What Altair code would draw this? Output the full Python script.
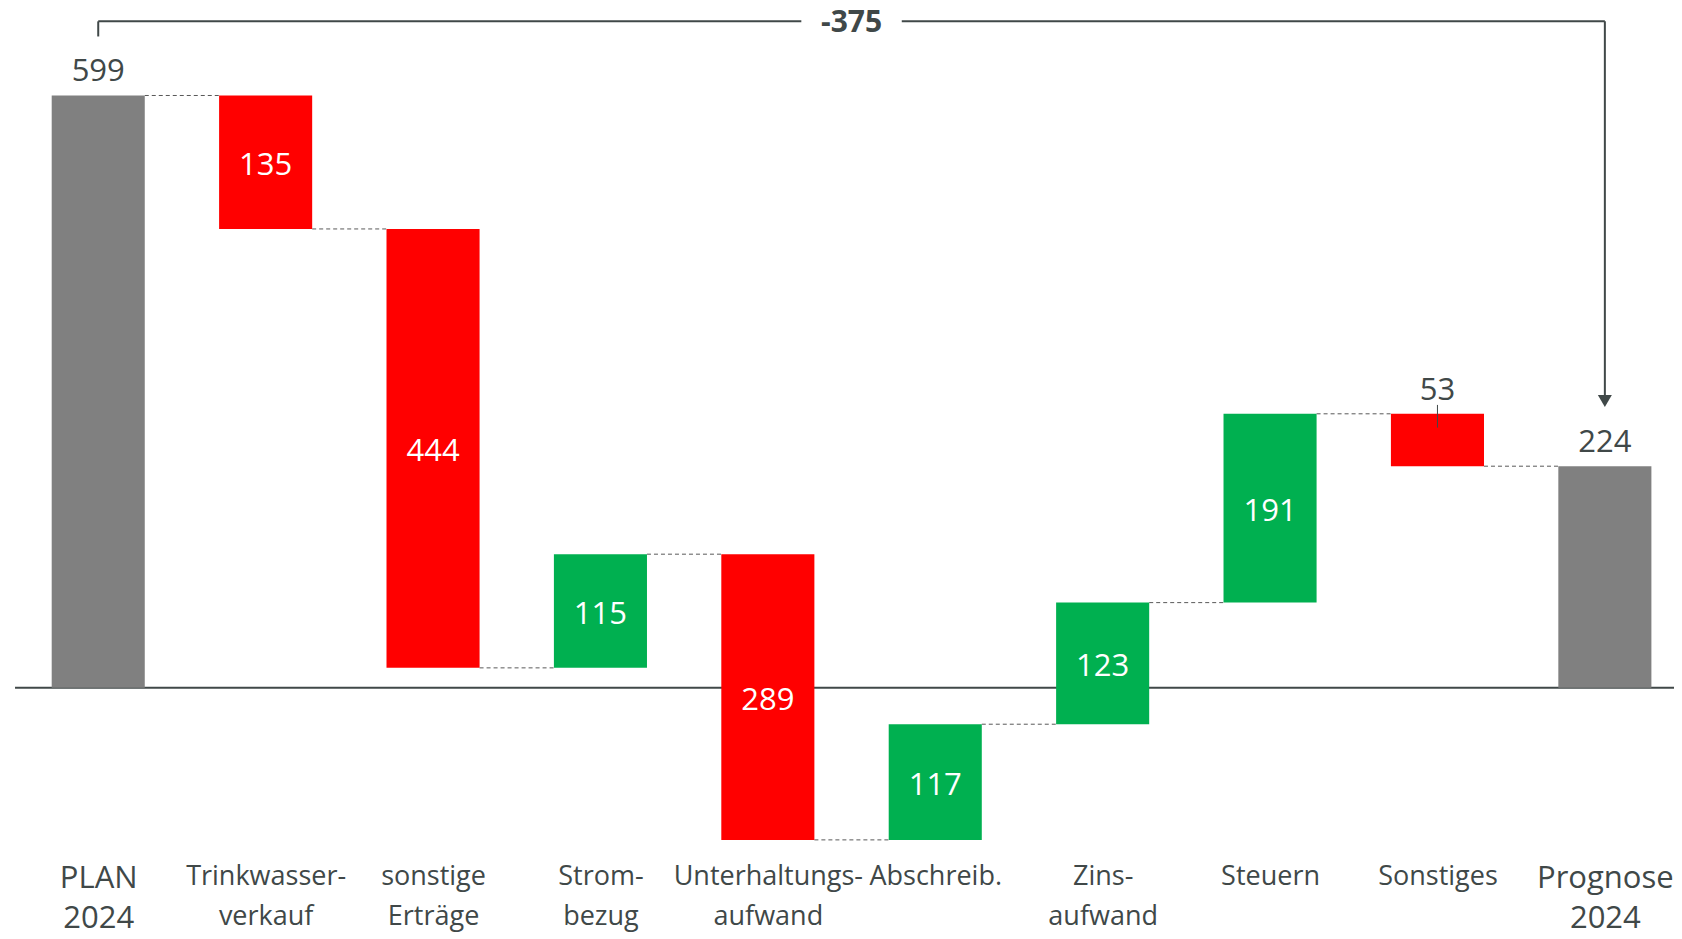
import json
import altair as alt
import pandas as pd

# ---------------- data ----------------
categories = ["PLAN 2024", "Trinkwasserverkauf", "sonstige Erträge", "Strombezug",
              "Unterhaltungsaufwand", "Abschreib.", "Zinsaufwand", "Steuern",
              "Sonstiges", "Prognose 2024"]
label_lines = [["PLAN", "2024"], ["Trinkwasser-", "verkauf"], ["sonstige", "Erträge"],
               ["Strom-", "bezug"], ["Unterhaltungs-", "aufwand"], ["Abschreib."],
               ["Zins-", "aufwand"], ["Steuern"], ["Sonstiges"], ["Prognose", "2024"]]
values = [599, -135, -444, 115, -289, 117, 123, 191, -53, 224]
kinds = ["total", "delta", "delta", "delta", "delta", "delta", "delta", "delta", "delta", "total"]

# ---------------- styling ----------------
GRAY = "#808080"
RED = "#FF0000"
GREEN = "#00B050"
DARK = "#404848"
FONT = "Open Sans"
HALF = 0.278  # half bar width in category units

rows = []
run = 0
for i, (c, v, k) in enumerate(zip(categories, values, kinds)):
    if k == "total":
        start, end = 0, v
        run = v
        t = "total"
    else:
        start, end = run, run + v
        run = end
        t = "neg" if v < 0 else "pos"
    rows.append(dict(idx=i, cat=c, value=v, start=start, end=end,
                     top=max(start, end), mid=(start + end) / 2,
                     label=str(abs(v)), kind=t, x0=i - HALF, x1=i + HALF))
df = pd.DataFrame(rows)

inside = df[(df.kind != "total") & (df.value.abs() >= 100)]
outside = df[(df.kind == "total") | (df.value.abs() < 100)]
small = df[(df.kind != "total") & (df.value.abs() < 100)].copy()
small["l0"] = small["top"] + 9
small["l1"] = small["top"] - 14

conn = pd.DataFrame([dict(xa=i + HALF, xb=i + 1 - HALF, lvl=df.end[i]) for i in range(len(df) - 1)])

diff = values[-1] - values[0]
n = len(values)
mid_x = (n - 1) / 2
by = values[0] + 75
bracket = pd.DataFrame([
    dict(x=0, x2=0, y=by - 15.3, y2=by),
    dict(x=0, x2=mid_x - 0.3, y=by, y2=by),
    dict(x=mid_x + 0.3, x2=n - 1, y=by, y2=by),
    dict(x=n - 1, x2=n - 1, y=by, y2=values[-1] + 66),
])
arrow = pd.DataFrame([dict(x=n - 1, y=values[-1] + 66)])
difftxt = pd.DataFrame([dict(x=mid_x, y=by - 2, t=f"{diff}")])

XS = alt.Scale(domain=[-0.539, 9.413], nice=False, zero=False)
YS = alt.Scale(domain=[-169.3, 687.5], nice=False, zero=False)

label_expr = json.dumps(label_lines, ensure_ascii=False) + "[datum.value]"

x_axis = alt.Axis(values=list(range(n)), labelExpr=label_expr, grid=False, ticks=False,
                  domain=False, labelFont=FONT, labelColor=DARK,
                  labelFontSize={"condition": {"test": "datum.value == 0 || datum.value == 9", "value": 31}, "value": 27},
                  labelPadding=8, labelLineHeight=40, labelOverlap=False, labelFlush=False,
                  labelBound=False, labelLimit=500, title=None)


def X(f):
    return alt.X(f, scale=XS, axis=x_axis)


def Y(f):
    return alt.Y(f, scale=YS, axis=None)


zero = alt.Chart(pd.DataFrame({"z": [0], "xa": [-0.497], "xb": [9.413]})).mark_rule(
    color=DARK, strokeWidth=2).encode(x=X("xa:Q"), x2="xb:Q", y=Y("z:Q"))

connectors = alt.Chart(conn).mark_rule(color="#595959", strokeWidth=1, strokeDash=[4, 3]).encode(
    x=X("xa:Q"), x2="xb:Q", y=Y("lvl:Q"))

bars = alt.Chart(df).mark_bar().encode(
    x=X("x0:Q"), x2="x1:Q", y=Y("start:Q"), y2="end:Q",
    color=alt.Color("kind:N", scale=alt.Scale(domain=["total", "neg", "pos"],
                                               range=[GRAY, RED, GREEN]), legend=None))

in_text = alt.Chart(inside).mark_text(font=FONT, fontSize=31, color="white",
                                      baseline="middle", align="center", dy=4).encode(
    x=X("idx:Q"), y=Y("mid:Q"), text="label:N")

out_text = alt.Chart(outside).mark_text(font=FONT, fontSize=31, color=DARK,
                                        baseline="middle", align="center", dy=-23).encode(
    x=X("idx:Q"), y=Y("top:Q"), text="label:N")

leader = alt.Chart(small).mark_rule(color=DARK, strokeWidth=1).encode(
    x=X("idx:Q"), y=Y("l0:Q"), y2="l1:Q")

br = alt.Chart(bracket).mark_rule(color=DARK, strokeWidth=2).encode(
    x=X("x:Q"), x2="x2:Q", y=Y("y:Q"), y2="y2:Q")

arr = alt.Chart(arrow).mark_point(shape="triangle-down", filled=True, size=196,
                                  color=DARK, opacity=1).encode(x=X("x:Q"), y=Y("y:Q"))

dtext = alt.Chart(difftxt).mark_text(font=FONT, fontSize=30, fontWeight="bold", color=DARK,
                                     baseline="middle", align="center").encode(
    x=X("x:Q"), y=Y("y:Q"), text="t:N")

chart = alt.layer(zero, connectors, bars, in_text, out_text, leader, br, arr, dtext).properties(
    width=1666, height=847,
    padding={"left": 0, "top": 0, "right": 0, "bottom": 84},
    autosize=alt.AutoSizeParams(type="none"),
).configure_view(stroke=None)

chart.save("out.html", embed_options={"renderer": "svg", "actions": False})
